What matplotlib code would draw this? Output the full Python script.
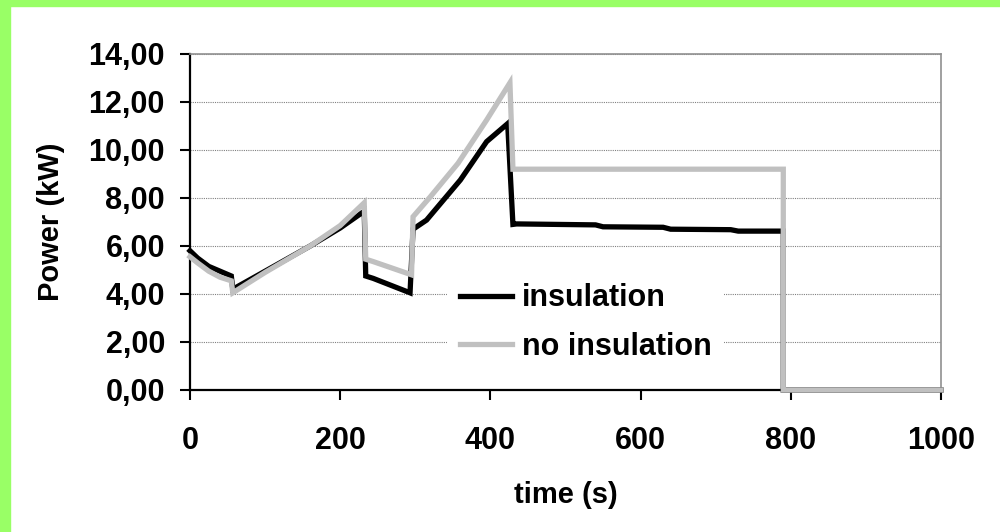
import matplotlib
matplotlib.use("Agg")
import matplotlib.pyplot as plt
from matplotlib.patches import Rectangle
from matplotlib.ticker import FuncFormatter, MultipleLocator

# ---- data ----
t_ins = [0, 10, 25, 40, 55, 57, 100, 160, 200, 232, 234, 244, 293, 297, 315, 360, 395, 423, 430,
         435, 540, 550, 630, 640, 720, 730, 790, 790, 1000]
p_ins = [5.8, 5.5, 5.15, 4.95, 4.75, 4.2, 4.95, 6.0, 6.75, 7.45, 4.75, 4.65, 4.05, 6.7, 7.08, 8.75,
         10.35, 11.1, 6.9, 6.92, 6.88, 6.8, 6.78, 6.7, 6.68, 6.62, 6.62, 0, 0]

t_noins = [0, 10, 25, 40, 55, 57, 100, 160, 200, 232, 234, 244, 295, 297, 320, 357, 395, 426, 430,
           790, 790, 1000]
p_noins = [5.55, 5.3, 4.95, 4.7, 4.55, 4.05, 4.9, 6.0, 6.85, 7.8, 5.45, 5.35, 4.8, 7.22, 8.05,
           9.45, 11.25, 12.8, 9.2, 9.2, 0, 0]

labels = ["insulation", "no insulation"]
x_ticks = [0, 200, 400, 600, 800, 1000]

plt.rcParams['font.family'] = ['Liberation Sans', 'DejaVu Sans']
plt.rcParams['font.weight'] = 'bold'

fig = plt.figure(figsize=(10, 5.32), dpi=100)
fig.patch.set_facecolor('white')
green = '#99FF66'
fig.patches.append(Rectangle((0, 0), 10 / 1000, 1, transform=fig.transFigure, color=green, zorder=0))
fig.patches.append(Rectangle((0, 1 - 6 / 532), 1, 6 / 532, transform=fig.transFigure, color=green, zorder=0))

ax = fig.add_axes([0.19, 1 - 390 / 532, 0.751, 336 / 532])
ax.set_xlim(0, 1000)
ax.set_ylim(0, 14)

ax.yaxis.set_major_locator(MultipleLocator(2))
ax.set_xticks(x_ticks)
ax.yaxis.set_major_formatter(FuncFormatter(lambda v, p: f"{v:.2f}".replace('.', ',')))
ax.grid(axis='y', color='#808080', linestyle=(0, (1, 1)), linewidth=0.8, zorder=1)

for s in ['left', 'bottom']:
    ax.spines[s].set_color('black')
    ax.spines[s].set_linewidth(1.6)
for s in ['top', 'right']:
    ax.spines[s].set_color('#909090')
    ax.spines[s].set_linewidth(1.2)

ax.tick_params(axis='both', direction='out', length=7, width=1.5, labelsize=22)
ax.tick_params(axis='y', pad=11)
ax.tick_params(axis='x', pad=19)
for lab in ax.get_xticklabels() + ax.get_yticklabels():
    lab.set_fontweight('bold')

ax.plot(t_ins, p_ins, color='black', linewidth=3.8, label=labels[0], zorder=3, clip_on=False,
        solid_joinstyle='miter')
ax.plot(t_noins, p_noins, color='#C0C0C0', linewidth=3.8, label=labels[1], zorder=4, clip_on=False,
        solid_joinstyle='miter')

ax.set_xlabel("time (s)", fontsize=21, fontweight='bold', labelpad=18)
ax.set_ylabel("Power (kW)", fontsize=21, fontweight='bold', labelpad=17)

leg = ax.legend(loc='center left', bbox_to_anchor=(0.342, 0.201), borderaxespad=0,
                frameon=True, facecolor='white', edgecolor='none', framealpha=1,
                handlelength=1.7, handletextpad=0.33, labelspacing=0.6,
                borderpad=0.42, prop={'weight': 'bold', 'size': 22})
leg.get_frame().set_linewidth(0)
leg.set_zorder(2)

fig.savefig("out.png", dpi=100, facecolor='white')
